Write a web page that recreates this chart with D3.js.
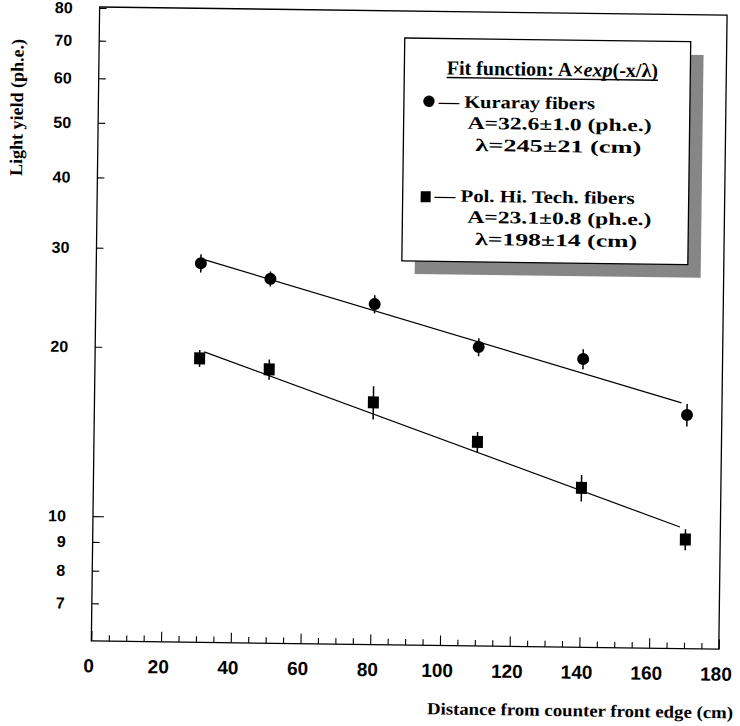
<!DOCTYPE html>
<html>
<head>
<meta charset="utf-8">
<script src="https://cdn.jsdelivr.net/npm/d3@7"></script>
<style>
  body { margin: 0; background: #fff; }
  svg { display: block; }
  .serif { font-family: "Liberation Serif", "Times New Roman", serif; font-weight: bold; }
  .sans { font-family: "Liberation Sans", Arial, sans-serif; font-weight: bold; }
</style>
</head>
<body>
<div id="main"></div>
<script>
// distances (cm) and light yields (ph.e.)
let distance = [30, 50, 80, 110, 140, 170]
let kuraray = [28.3, 26.65, 24.17, 20.39, 19.52, 15.61]
let kurarayErr = [1.05, 0.82, 0.9, 0.75, 0.8, 0.72]
let polHiTech = [19.18, 18.4, 16.17, 13.83, 11.52, 9.38]
let polHiTechErr = [0.66, 0.76, 1.1, 0.57, 0.62, 0.4]

// fit line end points [x, y]
let kurarayFit = [[31.2, 28.7], [168.4, 16.4]]
let polHiTechFit = [[31.3, 19.7], [168.4, 9.87]]

let xTickLabels = [0, 20, 40, 60, 80, 100, 120, 140, 160, 180]
let yTickLabels = [7, 8, 9, 10, 20, 30, 40, 50, 60, 70, 80]

let legendTitle = ["Fit function: A×", "exp", "(-x/λ)"]
let legendLines = [
  "— Kuraray fibers", "A=32.6±1.0 (ph.e.)", "λ=245±21 (cm)",
  "— Pol. Hi. Tech. fibers", "A=23.1±0.8 (ph.e.)", "λ=198±14 (cm)"
]

let width = 740
let height = 726

let svg = d3.select("#main")
            .append("svg")
            .attr("width", width)
            .attr("height", height)

// the scan is slightly tilted
let g = svg.append("g").attr("transform", "rotate(0.75, 405, 325)")

const xScale = d3.scaleLinear().domain([0, 180]).range([95.5, 723])
const yScale = d3.scaleLog().domain([6, 80]).range([645, 12])

// frame
g.append("rect")
 .attr("x", xScale(0))
 .attr("y", yScale(80) - 1)
 .attr("width", xScale(180) - xScale(0))
 .attr("height", yScale(6) - yScale(80) + 1)
 .attr("fill", "none")
 .attr("stroke", "#000")
 .attr("stroke-width", 1.3)

// x axis
let xAxis = d3.axisBottom(xScale)
              .tickValues(d3.range(0, 181, 5))
              .tickSizeInner(-6)
              .tickSizeOuter(0)
              .tickPadding(18)
              .tickFormat((d) => xTickLabels.includes(d) ? d : "")

let gx = g.append("g")
          .attr("transform", "translate(0," + yScale(6) + ")")
          .call(xAxis)
gx.select(".domain").remove()
gx.selectAll(".tick line")
  .attr("y2", (d) => d % 20 === 0 ? -10 : -6)
  .attr("stroke-width", 1.1)
gx.selectAll(".tick text")
  .attr("class", "sans")
  .attr("x", -3)
  .style("font-size", "19px")
  .attr("fill", "#000")

// y axis
let yAxis = d3.axisLeft(yScale)
              .tickValues(yTickLabels)
              .tickSizeInner(-7)
              .tickSizeOuter(0)
              .tickPadding(27)
              .tickFormat((d) => d)

let gy = g.append("g")
          .attr("transform", "translate(" + xScale(0) + ",0)")
          .call(yAxis)
gy.select(".domain").remove()
gy.selectAll(".tick line")
  .attr("x2", (d) => d === 10 ? 11 : 7)
  .attr("stroke-width", 1.1)
gy.selectAll(".tick text")
  .attr("class", "sans")
  .style("font-size", "16px")
  .attr("fill", "#000")

// axis titles
g.append("text")
 .attr("class", "serif")
 .attr("x", 432)
 .attr("y", 714)
 .attr("textLength", 306)
 .attr("lengthAdjust", "spacingAndGlyphs")
 .style("font-size", "17px")
 .text("Distance from counter front edge (cm)")

g.append("text")
 .attr("class", "serif")
 .attr("transform", "translate(20,44) rotate(-90)")
 .attr("text-anchor", "end")
 .style("font-size", "18px")
 .text("Light yield (ph.e.)")

// fit lines
let line = d3.line().x((d) => xScale(d[0])).y((d) => yScale(d[1]))
;[kurarayFit, polHiTechFit].forEach((f) => {
  g.append("path")
   .attr("d", line(f))
   .attr("fill", "none")
   .attr("stroke", "#000")
   .attr("stroke-width", 1.2)
})

// error bars
function errorBars (vals, errs) {
  g.append("g")
   .selectAll("line")
   .data(vals)
   .enter()
   .append("line")
   .attr("x1", (d, i) => xScale(distance[i]))
   .attr("x2", (d, i) => xScale(distance[i]))
   .attr("y1", (d, i) => yScale(d + errs[i]))
   .attr("y2", (d, i) => yScale(d - errs[i]))
   .attr("stroke", "#000")
   .attr("stroke-width", 1.5)
}
errorBars(kuraray, kurarayErr)
errorBars(polHiTech, polHiTechErr)

g.append("g")
 .selectAll("circle")
 .data(kuraray)
 .enter()
 .append("circle")
 .attr("cx", (d, i) => xScale(distance[i]))
 .attr("cy", (d) => yScale(d))
 .attr("r", 6)
 .attr("fill", "#000")

g.append("g")
 .selectAll("rect")
 .data(polHiTech)
 .enter()
 .append("rect")
 .attr("x", (d, i) => xScale(distance[i]) - 5.5)
 .attr("y", (d) => yScale(d) - 6)
 .attr("width", 11)
 .attr("height", 12)
 .attr("fill", "#000")

// legend box with shadow
let lg = g.append("g")
lg.append("rect")
  .attr("x", 414).attr("y", 51)
  .attr("width", 286).attr("height", 223)
  .attr("fill", "#868686")
lg.append("rect")
  .attr("x", 401).attr("y", 38)
  .attr("width", 286).attr("height", 223)
  .attr("fill", "#fff")
  .attr("stroke", "#000")
  .attr("stroke-width", 1.3)

let title = lg.append("text")
              .attr("class", "serif")
              .attr("x", 549)
              .attr("y", 74)
              .attr("text-anchor", "middle")
              .style("font-size", "20px")
title.append("tspan").text(legendTitle[0])
title.append("tspan").style("font-style", "italic").text(legendTitle[1])
title.append("tspan").text(legendTitle[2])
let tb = title.node().getBBox()
lg.append("line")
  .attr("x1", tb.x).attr("x2", tb.x + tb.width)
  .attr("y1", 77).attr("y2", 77)
  .attr("stroke", "#000").attr("stroke-width", 1.4)

lg.append("circle").attr("cx", 426).attr("cy", 101).attr("r", 5.7).attr("fill", "#000")
lg.append("rect").attr("x", 419).attr("y", 191).attr("width", 10).attr("height", 11).attr("fill", "#000")

let legendPos = [
  {x: 436, y: 107, anchor: "start", w: 156},
  {x: 557, y: 128, anchor: "middle", w: 184},
  {x: 556, y: 150, anchor: "middle", w: 166},
  {x: 433, y: 201, anchor: "start", w: 200},
  {x: 558, y: 222, anchor: "middle", w: 184},
  {x: 555, y: 244, anchor: "middle", w: 162}
]
lg.selectAll(".ltxt")
  .data(legendLines)
  .enter()
  .append("text")
  .attr("class", "serif ltxt")
  .attr("x", (d, i) => legendPos[i].x)
  .attr("y", (d, i) => legendPos[i].y)
  .attr("text-anchor", (d, i) => legendPos[i].anchor)
  .attr("textLength", (d, i) => legendPos[i].w)
  .attr("lengthAdjust", "spacingAndGlyphs")
  .style("font-size", "17.5px")
  .text((d) => d)
</script>
</body>
</html>
